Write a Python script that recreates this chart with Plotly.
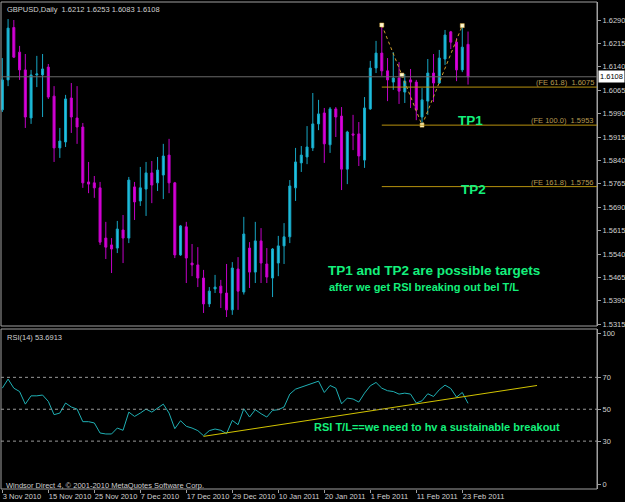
import plotly.graph_objects as go

# ---------------- data ----------------
date_labels = ["3 Nov 2010", "15 Nov 2010", "25 Nov 2010", "7 Dec 2010", "17 Dec 2010",
               "29 Dec 2010", "10 Jan 2011", "20 Jan 2011", "1 Feb 2011", "11 Feb 2011",
               "23 Feb 2011"]
date_label_bars = [0, 8, 16, 24, 32, 40, 48, 56, 64, 72, 80]

open_ = [1.6002, 1.6098, 1.6266, 1.6187, 1.6130, 1.5976, 1.6114, 1.6114, 1.6139, 1.6046,
         1.5880, 1.5899, 1.6040, 1.5976, 1.5947, 1.5771, 1.5768, 1.5752, 1.5591, 1.5569,
         1.5559, 1.5617, 1.5591, 1.5755, 1.5710, 1.5748, 1.5800, 1.5768, 1.5793, 1.5857,
         1.5768, 1.5537, 1.5627, 1.5511, 1.5505, 1.5463, 1.5380, 1.5428, 1.5437, 1.5415,
         1.5361, 1.5492, 1.5418, 1.5559, 1.5482, 1.5582, 1.5508, 1.5463, 1.5511, 1.5566,
         1.5595, 1.5752, 1.5832, 1.5851, 1.5880, 1.5957, 1.5992, 1.5890, 1.6005, 1.5982,
         1.5812, 1.5925, 1.5925, 1.5841, 1.6005, 1.6136, 1.6184, 1.6127, 1.6091, 1.6104,
         1.6059, 1.6098, 1.6091, 1.5979, 1.6030, 1.6120, 1.6088, 1.6165, 1.6252, 1.6219,
         1.6130, 1.6212]
high = [1.6168, 1.6293, 1.6290, 1.6207, 1.6181, 1.6130, 1.6175, 1.6181, 1.6149, 1.6078,
        1.5944, 1.6050, 1.6088, 1.6078, 1.5960, 1.5835, 1.5790, 1.5771, 1.5643, 1.5591,
        1.5646, 1.5665, 1.5787, 1.5771, 1.5819, 1.5835, 1.5838, 1.5851, 1.5893, 1.5909,
        1.5771, 1.5633, 1.5643, 1.5572, 1.5562, 1.5489, 1.5434, 1.5473, 1.5457, 1.5508,
        1.5514, 1.5530, 1.5659, 1.5578, 1.5643, 1.5623, 1.5559, 1.5559, 1.5598, 1.5639,
        1.5777, 1.5880, 1.5886, 1.5950, 1.6056, 1.6034, 1.6008, 1.6011, 1.6011, 1.6011,
        1.5935, 1.5986, 1.5963, 1.6043, 1.6159, 1.6223, 1.6274, 1.6168, 1.6187, 1.6155,
        1.6117, 1.6133, 1.6098, 1.6072, 1.6165, 1.6181, 1.6194, 1.6258, 1.6255, 1.6232,
        1.6268, 1.6253]
low = [1.5995, 1.6078, 1.6168, 1.6098, 1.5944, 1.5957, 1.6075, 1.5979, 1.6037, 1.5835,
       1.5848, 1.5883, 1.5928, 1.5893, 1.5752, 1.5735, 1.5720, 1.5569, 1.5524, 1.5479,
       1.5543, 1.5511, 1.5575, 1.5649, 1.5694, 1.5662, 1.5703, 1.5742, 1.5716, 1.5735,
       1.5527, 1.5534, 1.5447, 1.5469, 1.5434, 1.5351, 1.5370, 1.5415, 1.5367, 1.5338,
       1.5345, 1.5361, 1.5410, 1.5431, 1.5447, 1.5447, 1.5447, 1.5402, 1.5469, 1.5508,
       1.5575, 1.5710, 1.5803, 1.5828, 1.5870, 1.5937, 1.5832, 1.5864, 1.5915, 1.5745,
       1.5764, 1.5873, 1.5822, 1.5816, 1.6002, 1.6120, 1.6111, 1.6030, 1.6066, 1.6021,
       1.6024, 1.6008, 1.5969, 1.5953, 1.5986, 1.6027, 1.6085, 1.6146, 1.6197, 1.6094,
       1.6123, 1.6083]
close = [1.6098, 1.6264, 1.6171, 1.6130, 1.5979, 1.6114, 1.6117, 1.6133, 1.6043, 1.5880,
         1.5902, 1.6037, 1.5979, 1.5947, 1.5768, 1.5764, 1.5752, 1.5578, 1.5562, 1.5556,
         1.5620, 1.5591, 1.5777, 1.5707, 1.5752, 1.5800, 1.5761, 1.5809, 1.5854, 1.5768,
         1.5537, 1.5630, 1.5527, 1.5505, 1.5463, 1.5380, 1.5421, 1.5434, 1.5415, 1.5361,
         1.5495, 1.5421, 1.5604, 1.5482, 1.5582, 1.5511, 1.5466, 1.5556, 1.5566, 1.5595,
         1.5758, 1.5835, 1.5857, 1.5883, 1.5957, 1.5989, 1.5893, 1.6005, 1.5979, 1.5812,
         1.5931, 1.5921, 1.5854, 1.6008, 1.6136, 1.6184, 1.6127, 1.6098, 1.6104, 1.6062,
         1.6094, 1.6091, 1.6002, 1.6034, 1.6120, 1.6088, 1.6168, 1.6242, 1.6219, 1.6130,
         1.6203, 1.6108]
rsi = [63.2, 68.9, 63.2, 61.1, 53.2, 58.4, 58.4, 58.9, 54.9, 46.6,
       47.6, 53.9, 51.4, 50.1, 42.2, 42.2, 41.4, 35.1, 34.5, 34.5,
       38.2, 36.8, 48.2, 45.5, 47.6, 50.1, 48.2, 50.7, 53.2, 47.6,
       37.8, 42.8, 39.3, 38.2, 36.6, 33.4, 36.6, 37.6, 36.8, 34.7,
       43.0, 40.3, 50.3, 45.1, 49.7, 47.2, 45.1, 49.3, 49.7, 51.4,
       59.5, 62.6, 63.9, 64.7, 66.4, 67.6, 60.5, 64.9, 63.2, 53.4,
       57.0, 56.4, 54.5, 60.1, 64.7, 66.8, 63.2, 61.6, 61.1, 59.5,
       60.1, 59.5, 53.9, 55.3, 59.7, 58.0, 62.2, 65.1, 63.0, 57.6,
       60.5, 53.6913]
bars = list(range(len(open_)))

price_ticks = [1.6290, 1.6215, 1.6140, 1.6065, 1.5990, 1.5915, 1.5840, 1.5765,
               1.5690, 1.5615, 1.5540, 1.5465, 1.5390, 1.5315]
rsi_levels = [70, 50, 30]
rsi_tick_labels = ["100", "70", "50", "30", "0"]
rsi_tick_pos = [97.6, 70, 50, 30, 2.6]

# Fibonacci expansion anchors (bar index, price) and levels
fib_bars = [66, 73, 80]
fib_prices = [1.6274, 1.5953, 1.6272]
fe_names = ["(FE 61.8)", "(FE 100.0)", "(FE 161.8)"]
fe_values = [1.6075, 1.5953, 1.5756]

# RSI trend line
rsi_tl_bars = [35, 93]
rsi_tl_vals = [33.0, 64.9]

# ---------------- layout helpers ----------------
W, H = 625, 502
ML, MR, MT, MB = 1, 28, 2, 13
PW, PH = W - ML - MR, H - MT - MB


def px(x):
    return (x - ML) / PW


def py(y):
    return (H - MB - y) / PH


x_range = [-0.23, 103.43]
main_dom = [py(326), 1.0]
rsi_dom = [0.0, py(329)]

FONT = "Liberation Sans, Arial, sans-serif"
GREEN = "#14f07c"
GOLD = "#b8920e"
GOLDTXT = "#b89a50"
GRAY = "#a0a0a0"
TXT = "#d0d0d0"

fig = go.Figure()

fig.add_trace(go.Candlestick(
    x=bars, open=open_, high=high, low=low, close=close,
    increasing=dict(line=dict(color="#17a6c4", width=1), fillcolor="#22c4e4"),
    decreasing=dict(line=dict(color="#c200c6", width=1), fillcolor="#dc00dc"),
    whiskerwidth=0, xaxis="x", yaxis="y", hoverinfo="skip", showlegend=False))

# fib expansion dotted legs
fig.add_trace(go.Scatter(
    x=fib_bars, y=fib_prices, mode="lines", xaxis="x", yaxis="y",
    line=dict(color="#d0a030", width=1, dash="dot"), hoverinfo="skip", showlegend=False))
mid_bar = (fib_bars[0] + fib_bars[1]) / 2
mid_price = (fib_prices[0] + fib_prices[1]) / 2
fig.add_trace(go.Scatter(
    x=[fib_bars[0], mid_bar, fib_bars[1], fib_bars[2]],
    y=[fib_prices[0], mid_price, fib_prices[1], fib_prices[2]],
    mode="markers", xaxis="x", yaxis="y",
    marker=dict(symbol="square", size=4, color="#fff8d0", line=dict(color="#e0b040", width=0.5)),
    hoverinfo="skip", showlegend=False))

# RSI line and trend line
fig.add_trace(go.Scatter(
    x=bars, y=rsi, mode="lines", xaxis="x", yaxis="y2",
    line=dict(color="#1fb0b4", width=1), hoverinfo="skip", showlegend=False))
fig.add_trace(go.Scatter(
    x=rsi_tl_bars, y=rsi_tl_vals, mode="lines", xaxis="x", yaxis="y2",
    line=dict(color="#d2c400", width=1), hoverinfo="skip", showlegend=False))

shapes = []
# pane frames
shapes.append(dict(type="rect", xref="paper", yref="paper", x0=0, x1=1,
                   y0=main_dom[0], y1=main_dom[1], line=dict(color=GRAY, width=1)))
shapes.append(dict(type="rect", xref="paper", yref="paper", x0=0, x1=1,
                   y0=rsi_dom[0], y1=rsi_dom[1], line=dict(color=GRAY, width=1)))
# bid line
shapes.append(dict(type="line", xref="paper", yref="y", x0=0, x1=1,
                   y0=close[-1], y1=close[-1], line=dict(color="#6a6a6a", width=1)))
# FE levels
for v in fe_values:
    shapes.append(dict(type="line", xref="x", yref="y", x0=fib_bars[0], x1=x_range[1],
                       y0=v, y1=v, line=dict(color=GOLD, width=1)))
# RSI levels
for lv in rsi_levels:
    shapes.append(dict(type="line", xref="paper", yref="y2", x0=0, x1=1, y0=lv, y1=lv,
                       line=dict(color="#9a9a9a", width=1, dash="3px,3px")))

ann = []
ann.append(dict(text=f"GBPUSD,Daily  {open_[-1]:.4f} {high[-1]:.4f} {low[-1]:.4f} {close[-1]:.4f}",
                xref="paper", yref="paper", x=px(5), y=py(3), xanchor="left", yanchor="top",
                showarrow=False, font=dict(family=FONT, size=7.5, color=TXT)))
ann.append(dict(text=f"RSI(14) {rsi[-1]:.4f}", xref="paper", yref="paper", x=px(5), y=py(331),
                xanchor="left", yanchor="top", showarrow=False,
                font=dict(family=FONT, size=7.5, color=TXT)))
ann.append(dict(text="Windsor Direct 4, © 2001-2010 MetaQuotes Software Corp.",
                xref="paper", yref="paper", x=px(4), y=py(479), xanchor="left", yanchor="top",
                showarrow=False, font=dict(family=FONT, size=7.5, color=TXT)))
ann.append(dict(text=f"{close[-1]:.4f}", xref="paper", yref="y", x=1, y=close[-1],
                xanchor="left", yanchor="middle", xshift=1, showarrow=False,
                bgcolor="#ffffff", borderpad=1,
                font=dict(family=FONT, size=7.5, color="#000000")))
for name, v in zip(fe_names, fe_values):
    ann.append(dict(text=f"{name}  {v:.4f}", xref="paper", yref="y", x=1, y=v,
                    xanchor="right", yanchor="bottom", xshift=-1, yshift=-2, showarrow=False,
                    font=dict(family=FONT, size=7.5, color=GOLDTXT)))
ann.append(dict(text="<b>TP1</b>", xref="x", yref="y", x=81.5, y=1.5968,
                xanchor="center", yanchor="middle", showarrow=False,
                font=dict(family=FONT, size=13.5, color=GREEN)))
ann.append(dict(text="<b>TP2</b>", xref="x", yref="y", x=81.9, y=1.5748,
                xanchor="center", yanchor="middle", showarrow=False,
                font=dict(family=FONT, size=13.5, color=GREEN)))
ann.append(dict(text="<b>TP1 and TP2 are possible targets</b>", xref="x", yref="y",
                x=56.3, y=1.5486, xanchor="left", yanchor="middle", showarrow=False,
                font=dict(family=FONT, size=13.5, color=GREEN)))
ann.append(dict(text="<b>after we get RSI breaking out bel T/L</b>", xref="x", yref="y",
                x=56.5, y=1.5433, xanchor="left", yanchor="middle", showarrow=False,
                font=dict(family=FONT, size=11, color=GREEN)))
ann.append(dict(text="<b>RSI T/L==we need to hv a sustainable breakout</b>", xref="x", yref="y2",
                x=53.8, y=38.9, xanchor="left", yanchor="middle", showarrow=False,
                font=dict(family=FONT, size=11, color=GREEN)))

axis_common = dict(showgrid=False, zeroline=False, ticks="outside", ticklen=3,
                   tickcolor=GRAY, automargin=False,
                   tickfont=dict(family=FONT, size=7.5, color=TXT))

fig.update_layout(
    width=W, height=H, margin=dict(l=ML, r=MR, t=MT, b=MB, autoexpand=False),
    paper_bgcolor="#000000", plot_bgcolor="#000000",
    showlegend=False, boxgap=0.5,
    xaxis=dict(domain=[0, 1], range=x_range, anchor="y2", tickvals=date_label_bars,
               ticktext=date_labels, ticklabelposition="outside right", tickangle=0,
               rangeslider=dict(visible=False), showline=False, **axis_common),
    yaxis=dict(domain=main_dom, range=[1.530923, 1.634769], side="right", anchor="x",
               tickvals=price_ticks, tickformat=".4f", showline=True, linecolor=GRAY,
               **axis_common),
    yaxis2=dict(domain=rsi_dom, range=[0, 100.3], side="right", anchor="x",
                tickvals=rsi_tick_pos, ticktext=rsi_tick_labels, showline=True,
                linecolor=GRAY, **axis_common),
    shapes=shapes, annotations=ann,
)

fig.write_html("out.html")
